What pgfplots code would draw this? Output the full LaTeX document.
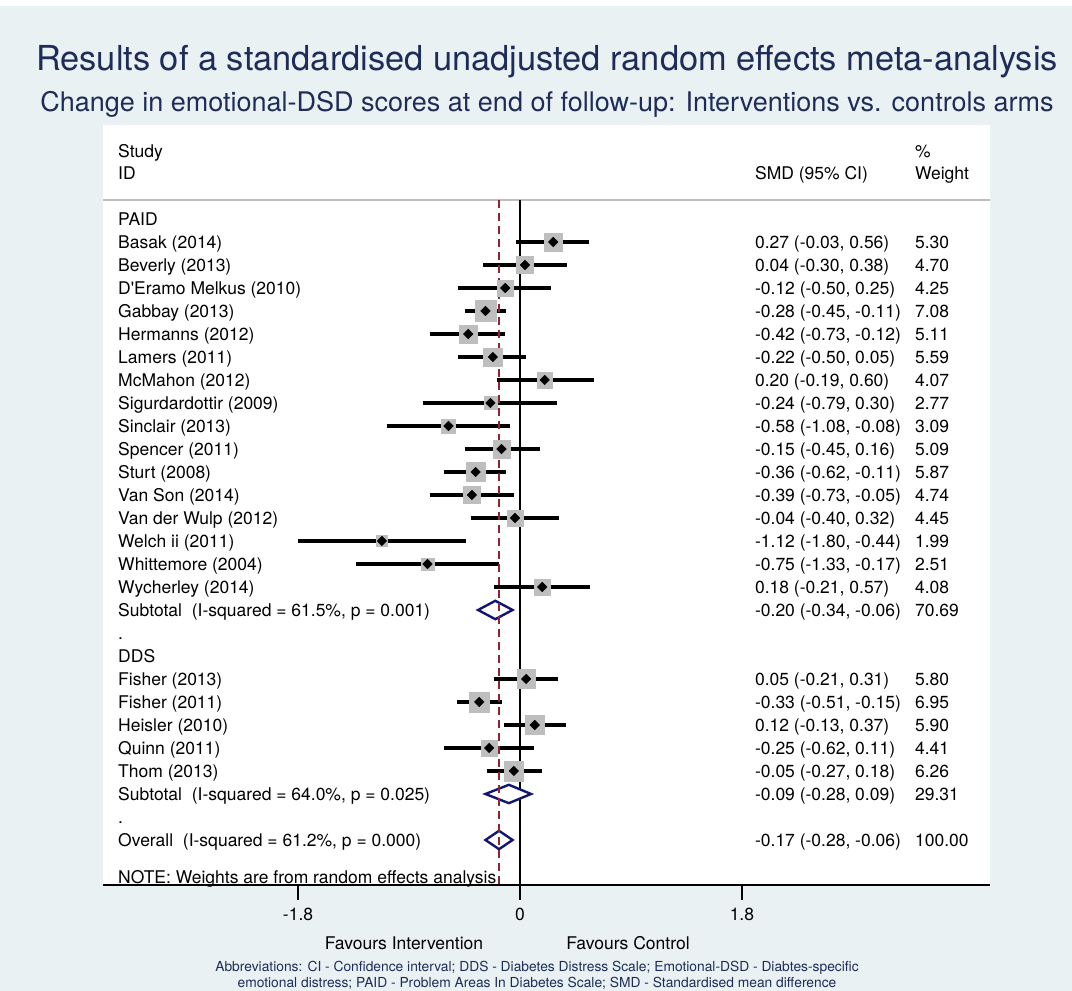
\documentclass[border=0pt]{standalone}
\usepackage{pgfplots}
\pgfplotsset{compat=1.18}
\usepackage{pgfplotstable}
\usepackage{fontspec}
\setmainfont{TeX Gyre Heros}
\definecolor{bgc}{RGB}{234,241,243}
\definecolor{titlec}{RGB}{30,44,88}
\definecolor{boxgray}{RGB}{190,190,190}
\definecolor{dnavy}{RGB}{18,22,112}
\definecolor{maroonc}{RGB}{140,38,48}
\definecolor{sepgray}{RGB}{190,190,190}

\pgfplotstableread{
r est lo hi w
1 0.27 -0.03 0.56 5.30
2 0.04 -0.30 0.38 4.70
3 -0.12 -0.50 0.25 4.25
4 -0.28 -0.45 -0.11 7.08
5 -0.42 -0.73 -0.12 5.11
6 -0.22 -0.50 0.05 5.59
7 0.20 -0.19 0.60 4.07
8 -0.24 -0.79 0.30 2.77
9 -0.58 -1.08 -0.08 3.09
10 -0.15 -0.45 0.16 5.09
11 -0.36 -0.62 -0.11 5.87
12 -0.39 -0.73 -0.05 4.74
13 -0.04 -0.40 0.32 4.45
14 -1.12 -1.80 -0.44 1.99
15 -0.75 -1.33 -0.17 2.51
16 0.18 -0.21 0.57 4.08
20 0.05 -0.21 0.31 5.80
21 -0.33 -0.51 -0.15 6.95
22 0.12 -0.13 0.37 5.90
23 -0.25 -0.62 0.11 4.41
24 -0.05 -0.27 0.18 6.26
}\studies

\newcommand{\rowfont}{\fontsize{17.5}{20}\selectfont}
\newcommand{\lt}[2]{\node[rowtext] at (axis cs:-3.26,-#1) {#2};}
\newcommand{\smd}[3]{\node[rowtext] at (axis cs:1.905,-#1) {#2};\node[rowtext] at (axis cs:3.203,-#1) {#3};}
\newcommand{\ci}[3]{\addplot[black, line width=3.4pt, mark=none, line cap=butt] coordinates {(#2,-#1) (#3,-#1)};}

\begin{document}
\begin{tikzpicture}[x=1pt,y=1pt,
  rowtext/.style={anchor=base west, yshift=-6.3pt, inner sep=0pt, font=\rowfont, text=black}]
\useasboundingbox (0,0) rectangle (1072,991);
\fill[bgc] (0,0) rectangle (1072,991);
\fill[white] (0,985) rectangle (1072,991);
\fill[white] (103,106) rectangle (990,866);

\node[text=titlec, font=\fontsize{34.4}{40}\selectfont] at (547,929) {Results of a standardised unadjusted random effects meta-analysis};
\node[text=titlec, font=\fontsize{27}{32}\selectfont] at (547,887) {Change in emotional-DSD scores at end of follow-up: Interventions vs. controls arms};

\begin{axis}[
  at={(103pt,106pt)}, anchor=south west,
  scale only axis, width=887pt, height=760pt,
  xmin=-3.382, xmax=3.812, ymin=-28.957, ymax=4.087,
  axis x line*=bottom, axis y line=none,
  xtick={-1.8,0,1.8}, xticklabels={-1.8,0,1.8},
  tick align=outside, major tick length=15pt,
  x axis line style={line width=2pt, black},
  every tick/.style={black, line width=2pt},
  xticklabel style={font=\rowfont, yshift=-5pt},
  clip=false,
]
% header separator
\addplot[sepgray, line width=2.2pt] coordinates {(-3.382,0.826) (3.812,0.826)};
% zero line
\addplot[black, line width=2.3pt] coordinates {(0,0.826) (0,-28.957)};
% CI lines
\ci{1}{-0.03}{0.56}
\ci{2}{-0.30}{0.38}
\ci{3}{-0.50}{0.25}
\ci{4}{-0.45}{-0.11}
\ci{5}{-0.73}{-0.12}
\ci{6}{-0.50}{0.05}
\ci{7}{-0.19}{0.60}
\ci{8}{-0.79}{0.30}
\ci{9}{-1.08}{-0.08}
\ci{10}{-0.45}{0.16}
\ci{11}{-0.62}{-0.11}
\ci{12}{-0.73}{-0.05}
\ci{13}{-0.40}{0.32}
\ci{14}{-1.80}{-0.44}
\ci{15}{-1.33}{-0.17}
\ci{16}{-0.21}{0.57}
\ci{20}{-0.21}{0.31}
\ci{21}{-0.51}{-0.15}
\ci{22}{-0.13}{0.37}
\ci{23}{-0.62}{0.11}
\ci{24}{-0.27}{0.18}
% weight boxes
\addplot[scatter, only marks, mark=square*,
  scatter/use mapped color={draw=boxgray, fill=boxgray},
  visualization depends on={3.9*sqrt(\thisrow{w}) \as \msz},
  scatter/@pre marker code/.append style={/tikz/mark size=\msz pt}]
  table[x=est, y expr=-\thisrow{r}] {\studies};
% point estimates
\addplot[only marks, mark=square*, mark size=3.4pt, mark options={black, fill=black, rotate=45}]
  table[x=est, y expr=-\thisrow{r}] {\studies};
% pooled diamonds
\addplot[draw=dnavy, line width=2.4pt, fill=white] coordinates {(-0.34,-17) (-0.20,-16.6) (-0.06,-17) (-0.20,-17.4)} -- cycle;
\addplot[draw=dnavy, line width=2.4pt, fill=white] coordinates {(-0.28,-25) (-0.09,-24.6) (0.09,-25) (-0.09,-25.4)} -- cycle;
\addplot[draw=dnavy, line width=2.4pt, fill=white] coordinates {(-0.28,-27) (-0.17,-26.6) (-0.06,-27) (-0.17,-27.4)} -- cycle;

% header
\node[rowtext] at (axis cs:-3.26,2.957) {Study};
\node[rowtext] at (axis cs:-3.26,2) {ID};
\node[rowtext] at (axis cs:1.905,2) {SMD (95\% CI)};
\node[rowtext] at (axis cs:3.203,2.957) {\%};
\node[rowtext] at (axis cs:3.203,2) {Weight};
% rows
\lt{0}{PAID}
\lt{1}{Basak (2014)}\smd{1}{0.27 (-0.03, 0.56)}{5.30}
\lt{2}{Beverly (2013)}\smd{2}{0.04 (-0.30, 0.38)}{4.70}
\lt{3}{D\textquotesingle Eramo Melkus (2010)}\smd{3}{-0.12 (-0.50, 0.25)}{4.25}
\lt{4}{Gabbay (2013)}\smd{4}{-0.28 (-0.45, -0.11)}{7.08}
\lt{5}{Hermanns (2012)}\smd{5}{-0.42 (-0.73, -0.12)}{5.11}
\lt{6}{Lamers (2011)}\smd{6}{-0.22 (-0.50, 0.05)}{5.59}
\lt{7}{McMahon (2012)}\smd{7}{0.20 (-0.19, 0.60)}{4.07}
\lt{8}{Sigurdardottir (2009)}\smd{8}{-0.24 (-0.79, 0.30)}{2.77}
\lt{9}{Sinclair (2013)}\smd{9}{-0.58 (-1.08, -0.08)}{3.09}
\lt{10}{Spencer (2011)}\smd{10}{-0.15 (-0.45, 0.16)}{5.09}
\lt{11}{Sturt (2008)}\smd{11}{-0.36 (-0.62, -0.11)}{5.87}
\lt{12}{Van Son (2014)}\smd{12}{-0.39 (-0.73, -0.05)}{4.74}
\lt{13}{Van der Wulp (2012)}\smd{13}{-0.04 (-0.40, 0.32)}{4.45}
\lt{14}{Welch ii (2011)}\smd{14}{-1.12 (-1.80, -0.44)}{1.99}
\lt{15}{Whittemore (2004)}\smd{15}{-0.75 (-1.33, -0.17)}{2.51}
\lt{16}{Wycherley (2014)}\smd{16}{0.18 (-0.21, 0.57)}{4.08}
\lt{17}{Subtotal\ \ (I-squared = 61.5\%, p = 0.001)}\smd{17}{-0.20 (-0.34, -0.06)}{70.69}
\lt{18}{.}
\lt{19}{DDS}
\lt{20}{Fisher (2013)}\smd{20}{0.05 (-0.21, 0.31)}{5.80}
\lt{21}{Fisher (2011)}\smd{21}{-0.33 (-0.51, -0.15)}{6.95}
\lt{22}{Heisler (2010)}\smd{22}{0.12 (-0.13, 0.37)}{5.90}
\lt{23}{Quinn (2011)}\smd{23}{-0.25 (-0.62, 0.11)}{4.41}
\lt{24}{Thom (2013)}\smd{24}{-0.05 (-0.27, 0.18)}{6.26}
\lt{25}{Subtotal\ \ (I-squared = 64.0\%, p = 0.025)}\smd{25}{-0.09 (-0.28, 0.09)}{29.31}
\lt{26}{.}
\lt{27}{Overall\ \ (I-squared = 61.2\%, p = 0.000)}\smd{27}{-0.17 (-0.28, -0.06)}{100.00}
\lt{28.6}{NOTE: Weights are from random effects analysis}
% dashed overall line (on top)
\addplot[maroonc, line width=2pt, dash pattern=on 8pt off 5pt] coordinates {(-0.17,0.826) (-0.17,-28.957)};
\end{axis}

\node[font=\rowfont] at (404,48) {Favours Intervention};
\node[font=\rowfont] at (628,48) {Favours Control};
\node[text=titlec, font=\fontsize{13.8}{16}\selectfont] at (537,23) {Abbreviations: CI - Confidence interval; DDS - Diabetes Distress Scale; Emotional-DSD - Diabtes-specific};
\node[text=titlec, font=\fontsize{13.8}{16}\selectfont] at (537,8) {emotional distress; PAID - Problem Areas In Diabetes Scale; SMD - Standardised mean difference};
\end{tikzpicture}
\end{document}
